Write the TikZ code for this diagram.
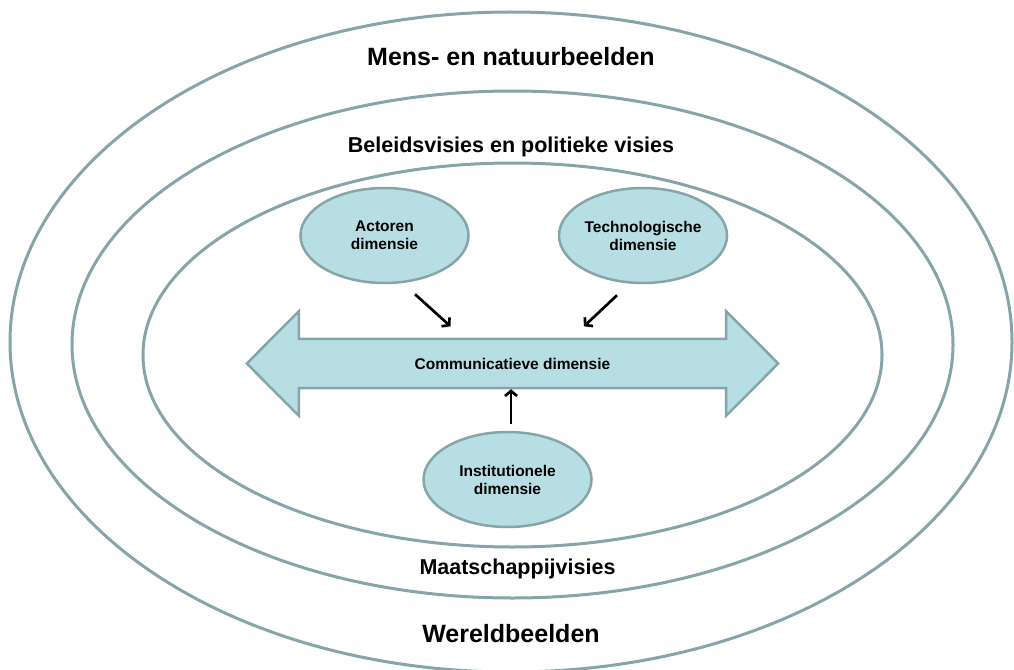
\documentclass[tikz,border=0pt]{standalone}
\usepackage{fontspec}
\setmainfont{Liberation Sans}
\usetikzlibrary{arrows.meta,shapes.geometric,backgrounds}
\definecolor{ringgray}{RGB}{134,165,168}
\definecolor{dimblue}{RGB}{183,222,226}
\tikzset{ring/.style={ellipse,draw=ringgray,line width=3pt,inner sep=0pt},dim/.style={ellipse,draw=ringgray,fill=dimblue,line width=2.5pt,inner sep=0pt,minimum width=168pt,minimum height=95pt,align=center,font=\bfseries\fontsize{15.5}{18}\selectfont},big/.style={font=\bfseries\fontsize{25}{30}\selectfont},mid/.style={font=\bfseries\fontsize{21.5}{26}\selectfont},band/.style={draw=ringgray,fill=dimblue,line width=2.5pt,line join=miter},link/.style={-{Straight Barb[length=5pt,width=12pt]},line width=2.7pt}}

\begin{document}
\begin{tikzpicture}[x=1pt,y=-1pt]
\useasboundingbox (0,0) rectangle (1014,669);
\node[ring,minimum width=1002pt,minimum height=660pt] (world) at (511,342) {};
\node[ring,minimum width=881pt,minimum height=507pt] (society) at (512.5,344.5) {};
\node[ring,minimum width=739pt,minimum height=384pt] (policy) at (512.5,355) {};
\node[big] (worldlbl) at (511,57) {Mens- en natuurbeelden};
\node[mid] (policylbl) at (511,147) {Beleidsvisies en politieke visies};
\node[mid] (societylbl) at (517.5,569) {Maatschappijvisies};
\node[big] (worldlbl2) at (511,634) {Wereldbeelden};
\node[dim] (actor) at (384.5,235.5) {Actoren\\dimensie};
\node[dim] (tech) at (643,235.5) {Technologische\\dimensie};
\node[dim] (inst) at (507.5,479.5) {Institutionele\\dimensie};
\node[minimum width=427pt,minimum height=49pt,inner sep=0pt,font=\bfseries\fontsize{15.5}{18}\selectfont] (comm) at (512.5,363.5) {Communicatieve dimensie};
\begin{scope}[on background layer]
\draw[band] (comm.north west)--([yshift=27.5pt]comm.north west)--([xshift=-52pt]comm.west)--([yshift=-27.5pt]comm.south west)--(comm.south west)--(comm.south east)--([yshift=-27.5pt]comm.south east)--([xshift=52pt]comm.east)--([yshift=27.5pt]comm.north east)--(comm.north east)--cycle;
\end{scope}
\draw[link] ([shift={(30.5,10)}]actor.south)--([shift={(-62,-12.5)}]comm.north);
\draw[link] ([shift={(-26,11)}]tech.south)--([shift={(71.5,-12.5)}]comm.north);
\draw[link] ([shift={(3.5,-7)}]inst.north)--([shift={(-1.5,1)}]comm.south);
\end{tikzpicture}
\end{document}
